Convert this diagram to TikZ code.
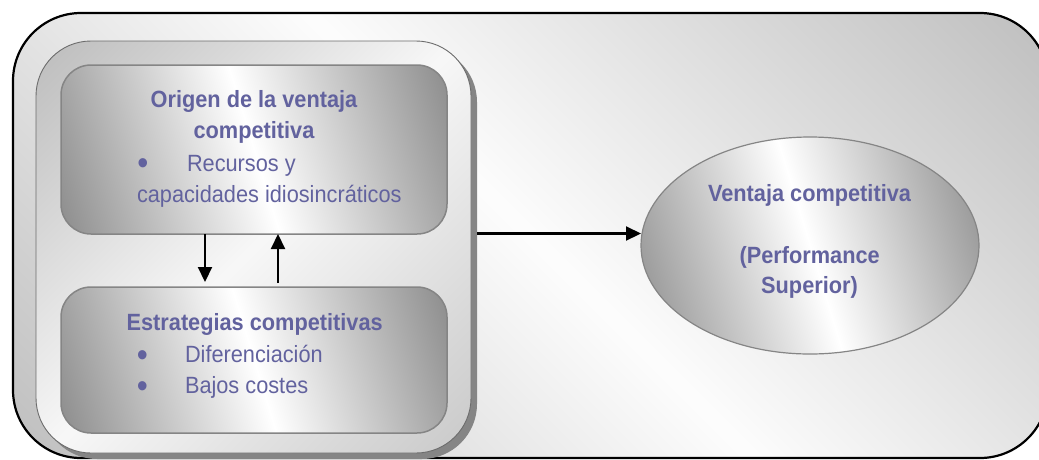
\documentclass[tikz,border=0pt]{standalone}
\usepackage{fontspec}
\setmainfont{Liberation Sans}[FakeStretch=0.925]
\usetikzlibrary{shapes.geometric,arrows.meta}

\definecolor{txt}{RGB}{98,98,158}
\definecolor{metdark}{gray}{0.54}
\definecolor{outdark}{gray}{0.75}
\definecolor{outlight}{gray}{0.99}
\definecolor{frdarkA}{gray}{0.74}
\definecolor{frdarkB}{gray}{0.79}
\definecolor{frlight}{gray}{0.97}
\definecolor{shadowgray}{gray}{0.52}
\definecolor{edgegray}{gray}{0.52}

% dark - white - dark band, used with a shading angle
\pgfdeclarehorizontalshading{metal}{100bp}{color(0bp)=(metdark); color(18bp)=(metdark); color(50bp)=(white); color(82bp)=(metdark); color(100bp)=(metdark)}
\pgfdeclarehorizontalshading{outershade}{100bp}{color(0bp)=(outdark); color(15bp)=(outdark); color(50bp)=(outlight); color(85bp)=(outdark); color(100bp)=(outdark)}
\pgfdeclarehorizontalshading{frameshade}{100bp}{color(0bp)=(frdarkA); color(15bp)=(frdarkA); color(50bp)=(frlight); color(85bp)=(frdarkB); color(100bp)=(frdarkB)}

\tikzset{
  outerbox/.style={rectangle, rounded corners=68pt, inner sep=0pt, outer sep=0pt,
    draw=black, line width=2.2pt, shading=outershade, shading angle=45},
  framebox/.style={rectangle, rounded corners=55pt, inner sep=0pt, outer sep=0pt,
    draw=gray!85!black, line width=0.9pt, shading=frameshade, shading angle=-45},
  frameshadow/.style={rectangle, rounded corners=55pt, inner sep=0pt, outer sep=0pt,
    fill=shadowgray},
  metalbox/.style={rectangle, rounded corners=30pt, inner sep=0pt, outer sep=0pt,
    draw=edgegray, line width=1.5pt, shading=metal, shading angle=17},
  metalell/.style={ellipse, inner sep=0pt, outer sep=0pt,
    draw=edgegray, line width=1.2pt, shading=metal, shading angle=17},
  lbl/.style={inner sep=0pt, outer sep=0pt, text=txt, font=\fontsize{23.5}{31}\selectfont},
  lblb/.style={lbl, font=\fontsize{23.5}{31}\selectfont\bfseries},
  bul/.style={lbl, anchor=base, font=\fontsize{34}{34}\selectfont},
  arr/.style={-{Triangle[length=15pt,width=14pt]}, line width=2.1pt, draw=black}
}

\begin{document}
\begin{tikzpicture}[x=1pt,y=-1pt]
  \useasboundingbox[fill=white] (0,0) rectangle (1039,459);

  % outer rounded panel
  \node[outerbox, minimum width=1035pt, minimum height=445pt] (outer) at (530.5,235.5) {};

  % grey frame holding the two boxes
  \node[frameshadow, minimum width=435pt, minimum height=412pt] (framesh) at (259.5,253) {};
  \node[framebox, minimum width=435pt, minimum height=412pt] (frame) at (253.5,247) {};

  % upper box
  \node[metalbox, minimum width=386pt, minimum height=169pt] (origen) at (254,149.5) {};
  \node[lblb, anchor=base] (o1) at (254,107) {Origen de la ventaja};
  \node[lblb, anchor=base] (o2) at (254,138) {competitiva};
  \node[bul] (ob) at (143,174) {•};
  \node[lbl, anchor=base west] (o3) at (187,171) {Recursos y};
  \node[lbl, anchor=base west] (o4) at (137,202) {capacidades idiosincráticos};

  % lower box
  \node[metalbox, minimum width=386pt, minimum height=146pt] (estrat) at (254,360) {};
  \node[lblb, anchor=base] (e1) at (254.7,330) {Estrategias competitivas};
  \node[bul] (eb1) at (142.3,366) {•};
  \node[lbl, anchor=base west] (e2) at (185,362) {Diferenciación};
  \node[bul] (eb2) at (142.3,397.7) {•};
  \node[lbl, anchor=base west] (e3) at (185,393.5) {Bajos costes};

  % result ellipse
  \node[metalell, minimum width=338pt, minimum height=217pt] (ventaja) at (810,245.5) {};
  \node[lblb, anchor=base] (v1) at (809.5,201.7) {Ventaja competitiva};
  \node[lblb, anchor=base] (v2) at (809.7,263) {(Performance};
  \node[lblb, anchor=base] (v3) at (809.5,293) {Superior)};

  % connectors
  \coordinate (xa) at (205,0);
  \coordinate (xb) at (278,0);
  \coordinate (ay) at (0,233.5);
  \draw[arr, shorten >=5pt] (origen.south -| xa) -- (estrat.north -| xa);
  \draw[arr, shorten <=4pt] (estrat.north -| xb) -- (origen.south -| xb);
  \draw[arr] (framesh.east |- ay) -- (ventaja.west |- ay);
\end{tikzpicture}
\end{document}
